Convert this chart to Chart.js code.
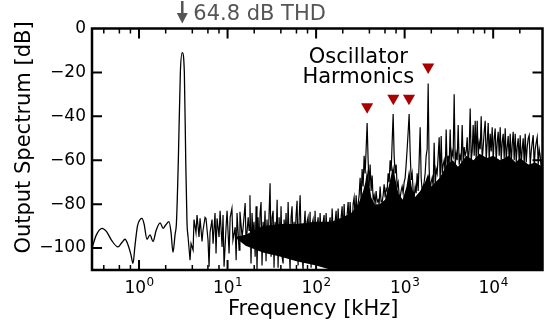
<!DOCTYPE html>
<html>
<head>
<meta charset="utf-8">
<script src="https://cdn.jsdelivr.net/npm/chart.js@4.4.0/dist/chart.umd.min.js"></script>
<style>
  html, body { margin: 0; padding: 0; background: #fff; }
  canvas { display: block; }
</style>
</head>
<body>
<canvas id="spectrum" width="551" height="324"></canvas>
<script>
// axis ticks
const xTickValues = [1, 10, 100, 1000, 10000];
const xTickExp = ['0', '1', '2', '3', '4'];
const xMinorSubs = [2, 4, 6, 8];
const yTickValues = [0, -20, -40, -60, -80, -100];
const yTickLabels = ['0', '\u221220', '\u221240', '\u221260', '\u221280', '\u2212100'];

// low frequency part (window lobes + test tone), kHz / dB
const lowFreq = [0.2944, 0.33, 0.382, 0.43, 0.49, 0.579, 0.64, 0.695, 0.75, 0.81, 0.855, 0.9, 0.96, 1.03, 1.08, 1.14,
  1.23, 1.33, 1.44, 1.56, 1.73, 1.87, 2.0, 2.18, 2.3, 2.42, 2.55, 2.65, 2.78, 2.93, 3.08, 3.25, 3.37, 3.48, 3.58];
const lowDb = [-100, -94, -91, -92.5, -96.5, -99.5, -97.5, -96, -98.5, -103, -107, -99, -90, -87, -86.5, -89,
  -96, -94, -97, -92, -88.5, -91, -89.5, -88, -93, -102, -94, -88, -60, -20, -11, -20, -60, -88, -95];

// noise floor and harmonics above the tone
const noiseFreq = [
  3.58, 3.77, 3.87, 4.08, 4.18, 4.40, 4.52, 4.76, 4.89, 5.15, 5.28, 5.57, 5.71, 6.02, 6.18, 6.34, 6.68, 6.86, 7.22, 7.41,
  7.61, 8.02, 8.23, 8.67, 8.89, 9.13, 9.62, 9.87, 10.4, 10.7, 11.2, 11.5, 12.2, 12.5, 12.8, 13.5, 13.8, 14.6, 15.0, 15.8,
  16.2, 17.1,
  17.5, 17.9, 18.4, 18.9, 19.4, 19.9, 20.5, 21.0, 21.5, 22.1,
  22.7, 23.3, 23.9, 24.5, 25.2, 25.8, 26.5, 27.2, 27.9, 28.7,
  29.4, 30.2, 31.0, 31.8, 32.7, 33.5, 34.4, 35.3, 36.3, 37.2,
  38.2, 39.2, 40.2, 41.3, 42.4, 43.5, 44.6, 45.8, 47.0, 48.3,
  49.5, 50.8, 52.2, 53.5, 55.0, 56.4, 57.9, 59.4, 61.0, 62.6,
  64.3, 66.0, 67.7, 69.5, 71.3, 73.2, 75.1, 77.1, 79.1, 81.2,
  83.3, 85.5, 87.8, 90.1, 92.5, 94.9, 97.4, 100, 102.6, 105.3,
  108.1, 111, 113.9, 116.9, 120.0, 123.2, 126.4, 129.7, 133.2, 136.7,
  140.3, 144.0, 147.8, 151.7, 155.7, 159.8, 164.0, 168.3, 172.7, 177.3,
  182.0, 186.8, 191.7, 196.7, 201.9, 207.2, 212.7, 218.3, 224.1, 230.0,
  236.0, 242.2, 248.6, 255.2, 261.9, 268.8, 275.9, 283.2, 290.6, 298.3,
  306.2, 314.2, 322.5, 331.0, 339.7, 348.7, 357.9, 367.3, 377.0, 386.9,
  397.1, 407.6, 418.3, 429.4, 440.7, 452.3, 464.2, 476.4, 489.0, 501.9,
  515.1, 528.7, 542.6, 556.9, 571.6, 586.7, 602.1, 618.0, 634.3, 651.0,
  668.2, 685.8, 703.9, 722.4, 741.5, 761.0, 781.1, 801.7, 822.8, 844.5,
  866.8, 889.6, 913.1, 937.2, 961.9, 987.2, 1013, 1040, 1067, 1096,
  1124, 1154, 1185, 1216, 1248, 1281, 1315, 1349, 1385, 1421,
  1459, 1497, 1537, 1577, 1619, 1661, 1705, 1750, 1796, 1844,
  1892, 1942, 1993, 2046, 2100, 2155, 2212, 2270, 2330, 2392,
  2455, 2519, 2586, 2654, 2724, 2796, 2869, 2945, 3022, 3102,
  3184, 3268, 3354, 3442, 3533, 3626, 3722, 3820, 3921, 4024,
  4130, 4239, 4351, 4466, 4583, 4704, 4828, 4956, 5086, 5220,
  5358, 5499, 5644, 5793, 5946, 6102, 6263, 6428, 6598, 6772,
  6950, 7133, 7321, 7514, 7712, 7915, 8124, 8338, 8558, 8783,
  9015, 9252, 9496, 9746, 10003, 10266, 10537, 10815, 11100, 11392,
  11693, 12001, 12317, 12642, 12975, 13317, 13668, 14028, 14398, 14777,
  15167, 15567, 15977, 16398, 16831, 17274, 17730, 18197, 18677, 19169,
  19674, 20193, 20725, 21271, 21832, 22407, 22998, 23604, 24226, 24865,
  25520, 26193, 26883, 27592, 28319, 29065, 29831, 30617, 31424, 32253,
  33103, 33975, 34871, 35790, 36060];
const noiseDb = [
  -95, -105.5, -98, -101, -87, -93, -85, -95, -86.5, -97, -92, -86, -86.5, -96.5, -108.5, -93, -87, -98, -84, -102.5,
  -86.5, -95, -83, -99.5, -85, -108.5, -90.5, -83, -102.5, -86, -82, -96.5, -90.5, -105.5, -84, -101, -83.5, -95, -90.5, -79.5,
  -98, -86,
  -92, -76, -107, -84, -95, -88, -104, -81, -110, -86,
  -100, -84, -79, -108, -88, -96, -83, -106, -87, -99,
  -85, -70.5, -104, -86, -83, -109, -88, -97, -78, -109,
  -86, -100, -81, -104, -107, -87, -95, -84, -102, -79,
  -96, -110, -86, -81, -100, -88, -96, -85, -78.5, -108,
  -87, -76, -95, -103, -110, -90, -83, -102, -88, -86,
  -98, -83.5, -109, -89, -87, -100, -83, -104, -90, -86,
  -97, -84, -95, -106, -88, -85, -99, -84, -94, -103,
  -89, -86, -97, -82, -93, -105, -88, -83, -95, -82,
  -92, -100, -86, -81, -94, -80, -91, -98, -85, -79,
  -90, -79, -88, -92, -80, -77, -86, -76, -84, -80,
  -76, -68, -78, -64, -72, -58, -66, -55, -43, -60,
  -72, -62, -74, -67, -78, -76, -80, -74, -79, -78,
  -80, -72, -79, -79, -76, -71, -77, -73, -74, -66,
  -70, -60, -65, -52, -39, -58, -66, -62, -72, -70,
  -76, -77, -74, -72, -75, -70, -68, -62, -55, -47,
  -39, -56, -69, -66, -74, -77, -72, -75, -66, -74,
  -60, -45, -68, -74, -72, -70, -66, -58, -55, -25,
  -64, -74, -70, -68, -72, -52, -72, -64, -66, -58,
  -49.5, -70, -49, -66, -62, -60, -66, -46, -64, -58,
  -62, -46, -63, -56, -58, -30, -62, -57, -60, -44,
  -62, -58, -60, -44, -61, -54, -58, -56, -49.5, -62,
  -55, -36.5, -60, -56, -44, -58, -42, -60, -42, -58,
  -52, -55, -40, -60, -54, -47, -42, -60, -52, -43,
  -60, -48, -56, -45, -60, -50, -45.5, -61, -52, -47,
  -58, -45, -60, -52, -48, -59, -45.5, -60, -54, -49,
  -60, -48, -62, -53, -47, -60, -48, -61, -54, -50,
  -61, -48.6, -62, -55, -50, -62, -48, -61, -54, -50,
  -48.6, -62, -56, -52, -48.6, -63, -55, -52, -49.5, -62,
  -55, -58, -64, -60, -60];

// solid band where the noise lines are too dense to separate
const massFreq = [12, 16, 25, 40, 60, 100, 150, 200, 250, 300, 340, 360, 377, 395, 420, 460, 520, 600, 660, 710, 741,
  780, 850, 950, 1050, 1124, 1200, 1300, 1500, 1700, 1844, 2000, 2500, 3000, 3500, 4000, 5000, 6000, 7000, 8500,
  10000, 12000, 15000, 18000, 20000, 25000, 30000, 36060];
const massTop = [-95, -94, -90, -89, -89, -88, -88, -86, -84, -80, -74, -70, -64, -70, -77, -80, -80, -78, -72, -66, -62,
  -68, -75, -78, -72, -64, -72, -77, -74, -70, -66, -72, -68, -62, -60, -63, -58, -60, -57, -59,
  -58, -60, -58, -61, -59, -62, -61, -63];
const massBottom = [-95, -99, -102, -104, -106, -108, -110, -110, -110, -110, -110, -110, -110, -110, -110, -110, -110, -110, -110, -110, -110,
  -110, -110, -110, -110, -110, -110, -110, -110, -110, -110, -110, -110, -110, -110, -110, -110, -110, -110, -110,
  -110, -110, -110, -110, -110, -110, -110, -110];

// oscillator harmonic markers
const harmFreq = [377, 745, 1120, 1844];
const harmDb = [-35.6, -31.8, -31.8, -17.5];

const thdFreq = 3.08;
const thdText = '64.8 dB THD';
const noteFreq = 300;
const noteLines = ['Oscillator', 'Harmonics'];
const noteDb = [-15.5, -25];

const pts = (xs, ys) => xs.map((v, i) => ({x: v, y: ys[i]}));
const FONT = 'DejaVu Sans';

const decor = {
  id: 'decor',
  afterDraw(chart) {
    const ctx = chart.ctx;
    const a = chart.chartArea;
    const x = chart.scales.x, y = chart.scales.y;
    ctx.save();

    // inward ticks on all four sides
    ctx.strokeStyle = '#000';
    const tick = (px, len, w, vertical) => {
      ctx.lineWidth = w;
      ctx.beginPath();
      if (vertical) {
        ctx.moveTo(px, a.bottom); ctx.lineTo(px, a.bottom - len);
        ctx.moveTo(px, a.top); ctx.lineTo(px, a.top + len);
      } else {
        ctx.moveTo(a.left, px); ctx.lineTo(a.left + len, px);
        ctx.moveTo(a.right, px); ctx.lineTo(a.right - len, px);
      }
      ctx.stroke();
    };
    for (let d = -1; d <= 4; d++) {
      xMinorSubs.forEach(k => {
        const v = k * Math.pow(10, d);
        if (v > x.min && v < x.max) tick(x.getPixelForValue(v), 5, 1.5, true);
      });
    }
    xTickValues.forEach(v => tick(x.getPixelForValue(v), 10, 2, true));
    yTickValues.forEach(v => { if (v > y.min && v < y.max) tick(y.getPixelForValue(v), 10, 2, false); });

    // frame
    ctx.lineWidth = 2.5;
    ctx.strokeRect(a.left, a.top, a.right - a.left, a.bottom - a.top);

    // x tick labels 10^n
    ctx.fillStyle = '#000';
    ctx.textBaseline = 'alphabetic';
    ctx.textAlign = 'left';
    xTickValues.forEach((v, i) => {
      const px = x.getPixelForValue(v);
      ctx.font = '17px "' + FONT + '"';
      const w1 = ctx.measureText('10').width;
      ctx.font = '12px "' + FONT + '"';
      const w2 = ctx.measureText(xTickExp[i]).width;
      const x0 = px - (w1 + w2) / 2;
      ctx.font = '17px "' + FONT + '"';
      ctx.fillText('10', x0, a.bottom + 23);
      ctx.font = '12px "' + FONT + '"';
      ctx.fillText(xTickExp[i], x0 + w1 + 0.5, a.bottom + 16);
    });

    // axis titles
    ctx.font = '21px "' + FONT + '"';
    ctx.textAlign = 'center';
    ctx.fillText('Frequency [kHz]', (a.left + a.right) / 2 - 4, a.bottom + 45);
    ctx.save();
    ctx.translate(30, 137.5);
    ctx.rotate(-Math.PI / 2);
    ctx.fillText('Output Spectrum [dB]', 0, 0);
    ctx.restore();

    // annotation text
    noteLines.forEach((t, i) => ctx.fillText(t, x.getPixelForValue(noteFreq), y.getPixelForValue(noteDb[i])));

    // THD arrow pointing at the tone, grey label beside it
    const ax = x.getPixelForValue(thdFreq);
    ctx.fillStyle = '#555';
    ctx.strokeStyle = '#555';
    ctx.lineWidth = 2.5;
    ctx.beginPath();
    ctx.moveTo(ax, 1); ctx.lineTo(ax, 15);
    ctx.stroke();
    ctx.beginPath();
    ctx.moveTo(ax - 5.5, 13); ctx.lineTo(ax + 5.5, 13); ctx.lineTo(ax, a.top - 5);
    ctx.closePath();
    ctx.fill();
    ctx.textAlign = 'left';
    ctx.fillText(thdText, ax + 11, a.top - 8.5);

    ctx.restore();
  }
};

new Chart(document.getElementById('spectrum'), {
  type: 'line',
  data: {
    datasets: [
      {
        data: pts(harmFreq, harmDb),
        showLine: false,
        pointStyle: 'triangle',
        rotation: 180,
        pointRadius: 7,
        pointBackgroundColor: '#aa0000',
        pointBorderWidth: 0,
        order: 0
      },
      {
        data: pts(lowFreq, lowDb),
        borderColor: '#000',
        borderWidth: 1.3,
        pointRadius: 0,
        cubicInterpolationMode: 'monotone',
        order: 1
      },
      {
        data: pts(noiseFreq, noiseDb),
        borderColor: '#000',
        borderWidth: 1.2,
        pointRadius: 0,
        tension: 0,
        order: 2
      },
      {
        data: pts(massFreq, massTop),
        borderWidth: 0,
        pointRadius: 0,
        fill: '+1',
        backgroundColor: '#000',
        order: 3
      },
      {
        data: pts(massFreq, massBottom),
        borderWidth: 0,
        pointRadius: 0,
        order: 4
      }
    ]
  },
  options: {
    responsive: false,
    animation: false,
    devicePixelRatio: 1,
    layout: { padding: { top: 28.5, right: 8.5, left: 0, bottom: 0 } },
    plugins: { legend: { display: false }, tooltip: { enabled: false } },
    scales: {
      x: {
        type: 'logarithmic',
        min: 0.2944,
        max: 36060,
        grid: { display: false },
        border: { display: false },
        ticks: { display: false },
        afterFit: s => { s.height = 54; }
      },
      y: {
        min: -110,
        max: 0,
        grid: { display: false, drawTicks: false },
        border: { display: false },
        afterBuildTicks: s => { s.ticks = yTickValues.map(v => ({value: v})); },
        ticks: {
          padding: 6,
          color: '#000',
          font: { family: FONT, size: 17 },
          callback: v => yTickLabels[yTickValues.indexOf(v)]
        },
        afterFit: s => { s.width = 92; }
      }
    }
  },
  plugins: [decor]
});
</script>
</body>
</html>
